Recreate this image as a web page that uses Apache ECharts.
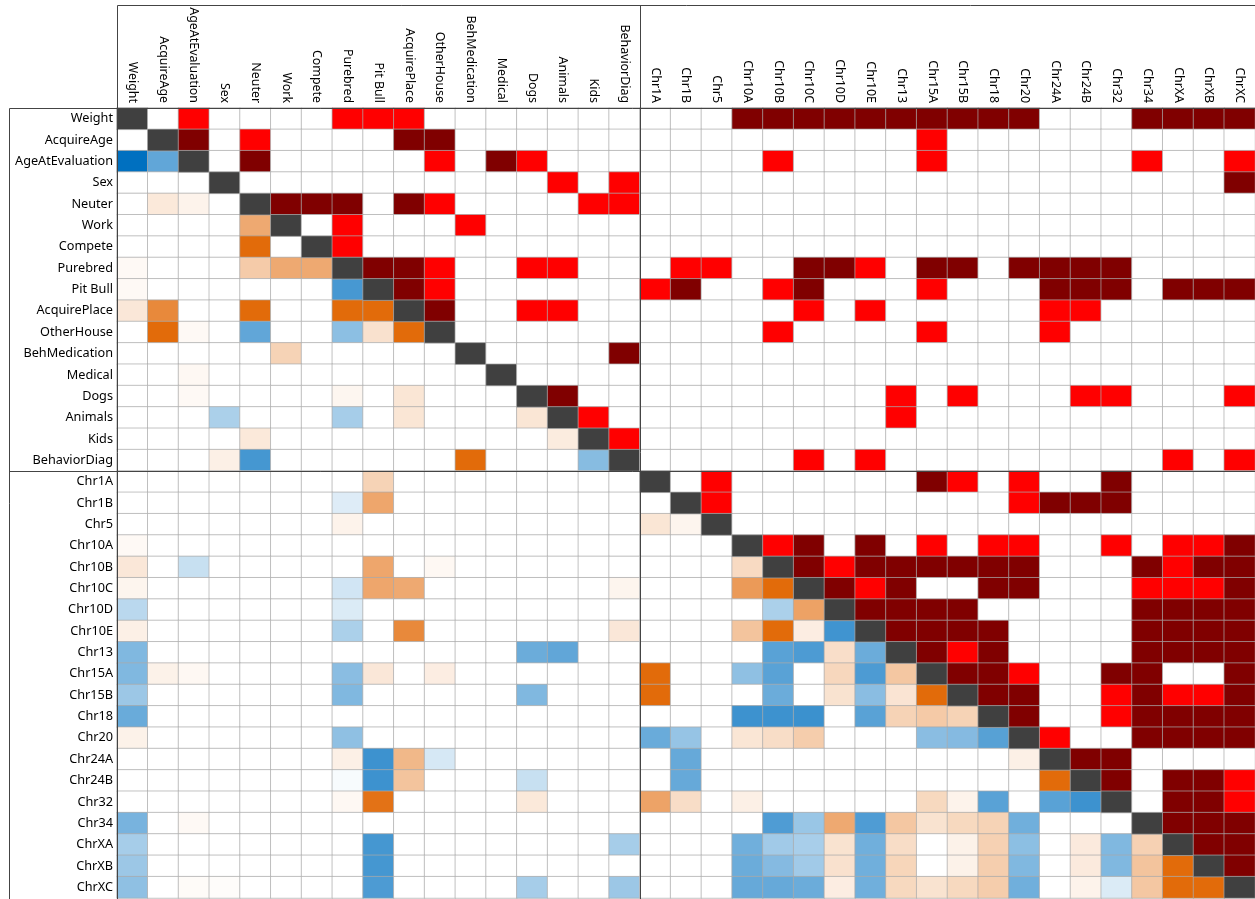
<!DOCTYPE html>
<html>
<head>
<meta charset="utf-8">
<script src="https://cdn.jsdelivr.net/npm/echarts@6/dist/echarts.min.js"></script>
<style>
html,body{margin:0;padding:0;background:#fff;}
#chart{width:1255px;height:899px;}
</style>
</head>
<body>
<div id="chart"></div>
<script>
// Variable names (rows and columns, same order)
const labels = ["Weight","AcquireAge","AgeAtEvaluation","Sex","Neuter","Work","Compete","Purebred","Pit Bull","AcquirePlace","OtherHouse","BehMedication","Medical","Dogs","Animals","Kids","BehaviorDiag","Chr1A","Chr1B","Chr5","Chr10A","Chr10B","Chr10C","Chr10D","Chr10E","Chr13","Chr15A","Chr15B","Chr18","Chr20","Chr24A","Chr24B","Chr32","Chr34","ChrXA","ChrXB","ChrXC"];

// Upper triangle: significance level [row, col, level] (1 = significant, 2 = highly significant)
const sigUpper = [
[0,2,1],[0,7,1],[0,8,1],[0,9,1],[0,20,2],[0,21,2],[0,22,2],[0,23,2],[0,24,2],[0,25,2],[0,26,2],[0,27,2],[0,28,2],[0,29,2],[0,33,2],[0,34,2],[0,35,2],[0,36,2],
[1,2,2],[1,4,1],[1,9,2],[1,10,2],[1,26,1],
[2,4,2],[2,10,1],[2,12,2],[2,13,1],[2,21,1],[2,26,1],[2,33,1],[2,36,1],
[3,14,1],[3,16,1],[3,36,2],
[4,5,2],[4,6,2],[4,7,2],[4,9,2],[4,10,1],[4,15,1],[4,16,1],
[5,7,1],[5,11,1],
[6,7,1],
[7,8,2],[7,9,2],[7,10,1],[7,13,1],[7,14,1],[7,18,1],[7,19,1],[7,22,2],[7,23,2],[7,24,1],[7,26,2],[7,27,2],[7,29,2],[7,30,2],[7,31,2],[7,32,2],
[8,9,2],[8,10,1],[8,17,1],[8,18,2],[8,21,1],[8,22,2],[8,26,1],[8,30,2],[8,31,2],[8,32,2],[8,34,2],[8,35,2],[8,36,2],
[9,10,2],[9,13,1],[9,14,1],[9,22,1],[9,24,1],[9,30,1],[9,31,1],
[10,21,1],[10,26,1],[10,30,1],
[11,16,2],
[13,14,2],[13,25,1],[13,27,1],[13,31,1],[13,32,1],[13,36,1],
[14,15,1],[14,25,1],
[15,16,1],
[16,22,1],[16,24,1],[16,34,1],[16,36,1],
[17,19,1],[17,26,2],[17,27,1],[17,29,1],[17,32,2],
[18,19,1],[18,29,1],[18,30,2],[18,31,2],[18,32,2],
[20,21,1],[20,22,2],[20,24,2],[20,26,1],[20,28,1],[20,29,1],[20,32,1],[20,34,1],[20,35,1],[20,36,2],
[21,22,2],[21,23,1],[21,24,2],[21,25,2],[21,26,2],[21,27,2],[21,28,2],[21,29,2],[21,33,2],[21,34,1],[21,35,2],[21,36,2],
[22,23,2],[22,24,1],[22,25,2],[22,28,2],[22,29,2],[22,33,1],[22,34,1],[22,35,1],[22,36,2],
[23,24,2],[23,25,2],[23,26,2],[23,27,2],[23,33,2],[23,34,2],[23,35,2],[23,36,2],
[24,25,2],[24,26,2],[24,27,2],[24,28,2],[24,33,2],[24,34,2],[24,35,2],[24,36,2],
[25,26,2],[25,27,1],[25,28,2],[25,33,2],[25,34,2],[25,35,2],[25,36,2],
[26,27,2],[26,28,2],[26,29,1],[26,32,2],[26,33,2],[26,36,2],
[27,28,2],[27,29,2],[27,32,1],[27,33,2],[27,34,1],[27,35,1],[27,36,2],
[28,29,2],[28,32,1],[28,33,2],[28,34,2],[28,35,2],[28,36,2],
[29,30,1],[29,33,2],[29,34,2],[29,35,2],[29,36,2],
[30,31,2],[30,32,2],
[31,32,2],[31,34,2],[31,35,2],[31,36,1],
[32,34,2],[32,35,2],[32,36,1],
[33,34,2],[33,35,2],[33,36,2],
[34,35,2],[34,36,2],
[35,36,2]
];

// Lower triangle: correlation estimate [row, col, value] (negative = blue, positive = orange)
const corrLower = [
[2,0,-1.0],[2,1,-0.62],
[4,1,0.15],[4,2,0.08],
[5,4,0.58],
[6,4,1.0],
[7,0,0.04],[7,4,0.35],[7,5,0.58],[7,6,0.58],
[8,0,0.04],[8,7,-0.72],
[9,0,0.16],[9,1,0.8],[9,4,1.0],[9,7,1.0],[9,8,1.0],
[10,1,1.0],[10,2,0.04],[10,4,-0.62],[10,7,-0.45],[10,8,0.2],[10,9,1.0],
[11,5,0.3],
[12,2,0.05],
[13,2,0.04],[13,7,0.06],[13,9,0.17],
[14,3,-0.33],[14,7,-0.35],[14,9,0.17],[14,13,0.17],
[15,4,0.15],[15,14,0.13],
[16,3,0.1],[16,4,-0.73],[16,11,1.0],[16,15,-0.47],
[17,8,0.3],
[18,7,-0.13],[18,8,0.6],
[19,7,0.08],[19,17,0.17],[19,18,0.07],
[20,0,0.04],
[21,0,0.16],[21,2,-0.22],[21,8,0.6],[21,10,0.05],[21,20,0.25],
[22,0,0.07],[22,7,-0.18],[22,8,0.6],[22,9,0.58],[22,16,0.07],[22,20,0.68],[22,21,1.0],
[23,0,-0.27],[23,7,-0.14],[23,21,-0.33],[23,22,0.63],
[24,0,0.1],[24,7,-0.33],[24,9,0.8],[24,16,0.16],[24,20,0.4],[24,21,1.0],[24,22,0.12],[24,23,-0.75],
[25,0,-0.5],[25,13,-0.58],[25,14,-0.62],[25,21,-0.65],[25,22,-0.7],[25,23,0.22],[25,24,-0.58],
[26,0,-0.5],[26,1,0.09],[26,2,0.05],[26,7,-0.46],[26,8,0.16],[26,10,0.12],[26,17,1.0],[26,20,-0.44],[26,21,-0.65],[26,23,0.27],[26,24,-0.7],[26,25,0.38],
[27,0,-0.39],[27,7,-0.5],[27,13,-0.5],[27,17,1.0],[27,21,-0.58],[27,23,0.19],[27,24,-0.46],[27,25,0.18],[27,26,1.0],
[28,0,-0.59],[28,20,-0.76],[28,21,-0.76],[28,22,-0.77],[28,24,-0.65],[28,25,0.3],[28,26,0.36],[28,27,0.3],
[29,0,0.09],[29,7,-0.44],[29,17,-0.59],[29,18,-0.41],[29,20,0.17],[29,21,0.23],[29,22,0.34],[29,26,-0.46],[29,27,-0.48],[29,28,-0.66],
[30,7,0.1],[30,8,-0.76],[30,9,0.48],[30,10,-0.16],[30,18,-0.6],[30,29,0.1],
[31,7,-0.03],[31,8,-0.76],[31,9,0.4],[31,13,-0.22],[31,18,-0.6],[31,30,1.0],
[32,7,0.05],[32,8,0.95],[32,13,0.15],[32,17,0.62],[32,18,0.23],[32,20,0.1],[32,26,0.26],[32,27,0.08],[32,28,-0.65],[32,30,-0.65],[32,31,-0.76],
[33,0,-0.53],[33,2,0.04],[33,21,-0.69],[33,22,-0.4],[33,23,0.58],[33,24,-0.69],[33,25,0.38],[33,26,0.19],[33,27,0.26],[33,28,0.3],[33,29,-0.56],
[34,0,-0.35],[34,8,-0.73],[34,16,-0.35],[34,20,-0.56],[34,21,-0.37],[34,22,-0.34],[34,23,0.19],[34,24,-0.56],[34,25,0.23],[34,27,0.09],[34,28,0.31],[34,29,-0.45],[34,31,0.14],[34,32,-0.5],[34,33,0.31],
[35,0,-0.39],[35,8,-0.73],[35,20,-0.58],[35,21,-0.48],[35,22,-0.37],[35,23,0.2],[35,24,-0.56],[35,25,0.28],[35,27,0.09],[35,28,0.33],[35,29,-0.5],[35,31,0.14],[35,32,-0.5],[35,33,0.4],[35,34,1.0],
[36,0,-0.44],[36,2,0.03],[36,3,0.02],[36,8,-0.7],[36,13,-0.35],[36,16,-0.39],[36,20,-0.6],[36,21,-0.6],[36,22,-0.58],[36,23,0.12],[36,24,-0.56],[36,25,0.26],[36,26,0.19],[36,27,0.26],[36,28,0.34],[36,29,-0.56],[36,31,0.08],[36,32,-0.14],[36,33,0.38],[36,34,1.0],[36,35,1.0]
];

const n = labels.length;
const upperMap = {}; sigUpper.forEach(([r,c,v]) => { upperMap[r+'_'+c] = v; });
const lowerMap = {}; corrLower.forEach(([r,c,v]) => { lowerMap[r+'_'+c] = v; });
const lowerData = [], upperData = [];
for (let r = 0; r < n; r++) {
  for (let c = 0; c < n; c++) {
    if (c < r) lowerData.push([c, r, lowerMap[r+'_'+c] || 0]);
    else if (c > r) upperData.push([c, r, upperMap[r+'_'+c] || 0]);
    else upperData.push([c, r, 3]);
  }
}

const FONT = 'Noto Sans';
const GL = 117, GT = 108, GW = 1138, GH = 790;
const chart = echarts.init(document.getElementById('chart'), null, {renderer:'canvas'});
const lineStyle = {stroke:'#444', lineWidth:1};
chart.setOption({
  animation:false,
  backgroundColor:'#fff',
  grid:{left:GL, top:GT, width:GW, height:GH},
  xAxis:{type:'category', data:labels, position:'top',
    axisLine:{show:false}, axisTick:{show:false}, splitLine:{show:false},
    axisLabel:{rotate:90, margin:5, align:'right', verticalAlign:'middle', hideOverlap:false,
      color:'#000', fontFamily:FONT, fontSize:12.4, interval:0}},
  yAxis:{type:'category', data:labels, inverse:true,
    axisLine:{show:false}, axisTick:{show:false}, splitLine:{show:false},
    axisLabel:{margin:4, color:'#000', fontFamily:FONT, fontSize:12.7, interval:0}},
  visualMap:[
    {type:'continuous', show:false, seriesIndex:0, min:-1, max:1, inRange:{color:['#0070c0','#ffffff','#e26b0a']}},
    {type:'piecewise', show:false, seriesIndex:1, pieces:[
      {value:0, color:'#ffffff'},{value:1, color:'#ff0000'},{value:2, color:'#800000'},{value:3, color:'#404040'}]}
  ],
  series:[
    {type:'heatmap', data:lowerData, itemStyle:{borderColor:'rgba(170,170,170,0.7)', borderWidth:1}, emphasis:{disabled:true}},
    {type:'heatmap', data:upperData, itemStyle:{borderColor:'rgba(170,170,170,0.7)', borderWidth:1}, emphasis:{disabled:true}}
  ],
  graphic:[
    {type:'line', shape:{x1:117.5, y1:5.5, x2:1255, y2:5.5}, style:lineStyle, z:100},
    {type:'line', shape:{x1:117.5, y1:5.5, x2:117.5, y2:899}, style:lineStyle, z:100},
    {type:'line', shape:{x1:640.5, y1:5.5, x2:640.5, y2:899}, style:lineStyle, z:100},
    {type:'line', shape:{x1:9.5, y1:108.5, x2:1255, y2:108.5}, style:lineStyle, z:100},
    {type:'line', shape:{x1:9.5, y1:471.5, x2:1255, y2:471.5}, style:lineStyle, z:100},
    {type:'line', shape:{x1:9.5, y1:108.5, x2:9.5, y2:899}, style:lineStyle, z:100}
  ]
});
</script>
</body>
</html>
